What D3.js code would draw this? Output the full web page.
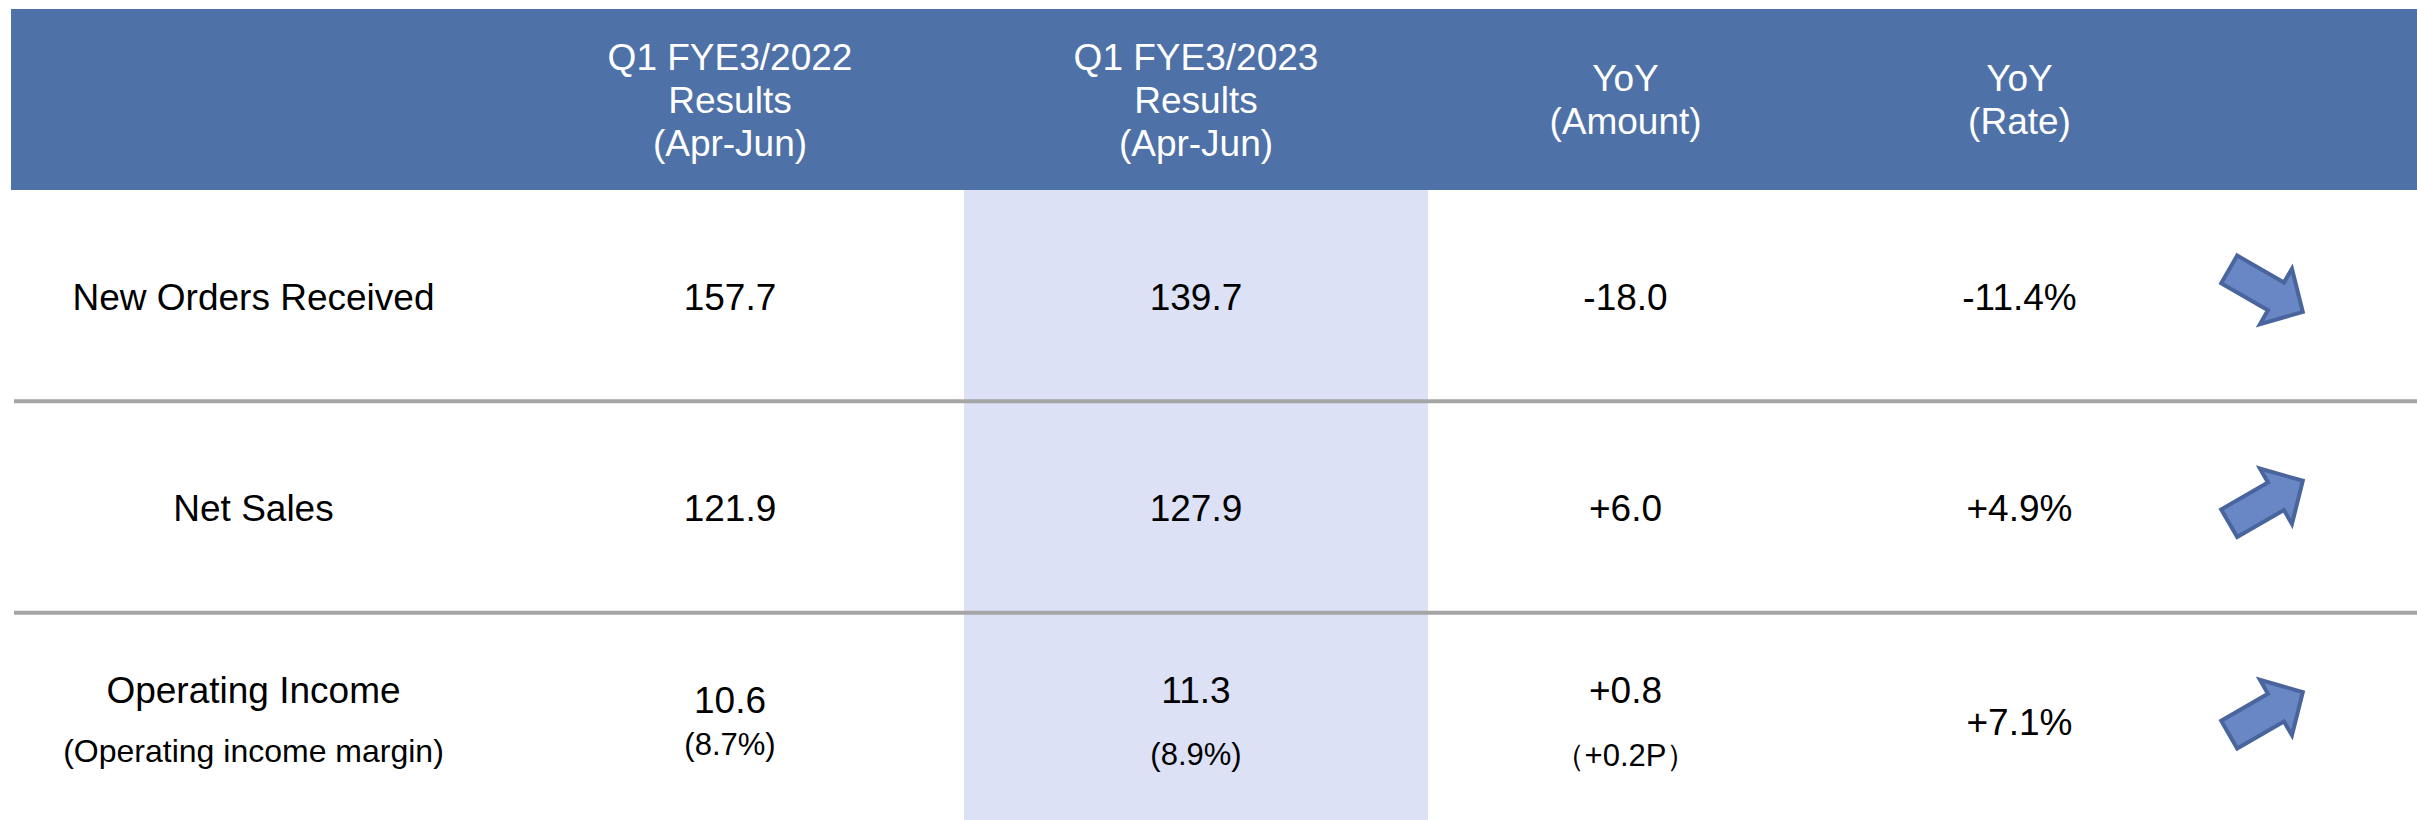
<!DOCTYPE html>
<html>
<head>
<meta charset="utf-8">
<script src="https://cdn.jsdelivr.net/npm/d3@7"></script>
<style>
  body { margin: 0; background: #fff; }
  svg text { font-family: "Liberation Sans", Arial, sans-serif; }
</style>
</head>
<body>
<div id="table-container"></div>
<script>
// RESULTS SUMMARY TABLE

// Data

var metrics = ["New Orders Received", "Net Sales", "Operating Income"];
var metricNotes = ["", "", "(Operating income margin)"];

var headerLines = [
    [],
    ["Q1 FYE3/2022", "Results", "(Apr-Jun)"],
    ["Q1 FYE3/2023", "Results", "(Apr-Jun)"],
    ["YoY", "(Amount)"],
    ["YoY", "(Rate)"],
    []
];

var prevResults = [157.7, 121.9, 10.6];
var currResults = [139.7, 127.9, 11.3];
var yoyAmount = [-18.0, 6.0, 0.8];
var yoyRate = [-11.4, 4.9, 7.1];

var prevMargin = [null, null, 8.7];
var currMargin = [null, null, 8.9];
var marginChange = [null, null, 0.2];

// Layout

var width = 2417;
var height = 820;
var colWidths = [485, 468, 464, 395, 393, 212];
var tableLeft = 11;
var headerTop = 9;
var headerBottom = 190;
var tableBottom = 824;

var headerColor = "#4e71a8";
var highlightColor = "#dce1f6";
var ruleColor = "#a5a5a5";

var colEdges = [tableLeft];
colWidths.forEach(function(w, i) { colEdges.push(colEdges[i] + w); });
function colCenter(i) { return (colEdges[i] + colEdges[i + 1]) / 2; }

var yScale = d3.scaleBand()
    .domain(metrics)
    .range([headerBottom, tableBottom]);

var fmt1 = d3.format(".1f");
function signed(v) { return (v < 0 ? "-" : "+") + fmt1(Math.abs(v)); }

// Cell texts (main + optional note) per column
var cells = metrics.map(function(m, i) {
    return [
        { main: m, note: metricNotes[i] },
        { main: fmt1(prevResults[i]), note: prevMargin[i] == null ? "" : "(" + fmt1(prevMargin[i]) + "%)" },
        { main: fmt1(currResults[i]), note: currMargin[i] == null ? "" : "(" + fmt1(currMargin[i]) + "%)" },
        { main: signed(yoyAmount[i]), note: marginChange[i] == null ? "" : "\uff08" + signed(marginChange[i]) + "P\uff09" },
        { main: signed(yoyRate[i]) + "%", note: "" }
    ];
});

// two-line offsets from the row middle: [main baseline, note baseline]
var twoLine = { 0: [-15, 44], 1: [-5, 37], 2: [-15, 47], 3: [-15, 48] };
var noteSize = { 0: 32, 1: 31, 2: 31, 3: 31 };

// SVG

var svg = d3.select("#table-container")
    .append("svg")
    .attr("width", width)
    .attr("height", height);

// Header band
svg.append("rect")
    .attr("x", tableLeft)
    .attr("y", headerTop)
    .attr("width", width - tableLeft)
    .attr("height", headerBottom - headerTop)
    .attr("fill", headerColor);

// Highlighted current-year column
svg.append("rect")
    .attr("x", colEdges[2])
    .attr("y", headerBottom)
    .attr("width", colEdges[3] - colEdges[2])
    .attr("height", tableBottom - headerBottom)
    .attr("fill", highlightColor);

// Header text
var headerMid = (headerTop + headerBottom) / 2;
headerLines.forEach(function(lines, c) {
    var lineH = 43;
    var first = headerMid + 13 - (lines.length - 1) * lineH / 2;
    var t = svg.append("text")
        .attr("text-anchor", "middle")
        .attr("fill", "#fff")
        .attr("font-size", 37);
    lines.forEach(function(l, k) {
        t.append("tspan")
            .attr("x", colCenter(c))
            .attr("y", first + k * lineH)
            .text(l);
    });
});

// Row rules
svg.selectAll(".rule")
    .data(metrics.slice(1))
    .enter()
    .append("line")
    .attr("class", "rule")
    .attr("x1", 14)
    .attr("x2", width)
    .attr("y1", function(d) { return yScale(d); })
    .attr("y2", function(d) { return yScale(d); })
    .attr("stroke", ruleColor)
    .attr("stroke-width", 4);

// Body text
var rows = svg.selectAll(".row")
    .data(cells)
    .enter()
    .append("g")
    .attr("class", "row")
    .attr("transform", function(d, i) {
        return "translate(0," + (yScale(metrics[i]) + yScale.bandwidth() / 2) + ")";
    });

rows.each(function(row, r) {
    var g = d3.select(this);
    var rowHasNotes = row.some(function(c) { return c.note !== ""; });
    row.forEach(function(cell, c) {
        var hasNote = cell.note !== "";
        var mainY = hasNote ? twoLine[c][0] : (rowHasNotes ? 17 : 14);
        g.append("text")
            .attr("x", colCenter(c))
            .attr("y", mainY)
            .attr("text-anchor", "middle")
            .attr("font-size", 37)
            .attr("fill", "#000")
            .text(cell.main);
        if (hasNote) {
            g.append("text")
                .attr("x", colCenter(c))
                .attr("y", twoLine[c][1])
                .attr("text-anchor", "middle")
                .attr("font-size", noteSize[c])
                .attr("fill", "#000")
                .text(cell.note);
        }
    });
});

// Trend arrows (direction from YoY amount)
var arrowLen = 85, shaftHalf = 16, headHalf = 32, headLen = 31;
var arrowPath = d3.path();
arrowPath.moveTo(-arrowLen / 2, -shaftHalf);
arrowPath.lineTo(arrowLen / 2 - headLen, -shaftHalf);
arrowPath.lineTo(arrowLen / 2 - headLen, -headHalf);
arrowPath.lineTo(arrowLen / 2, 0);
arrowPath.lineTo(arrowLen / 2 - headLen, headHalf);
arrowPath.lineTo(arrowLen / 2 - headLen, shaftHalf);
arrowPath.lineTo(-arrowLen / 2, shaftHalf);
arrowPath.closePath();

svg.selectAll(".arrow")
    .data(yoyAmount)
    .enter()
    .append("path")
    .attr("class", "arrow")
    .attr("d", arrowPath.toString())
    .attr("transform", function(d, i) {
        var cy = yScale(metrics[i]) + yScale.bandwidth() / 2 - 5;
        return "translate(" + (colEdges[5] + 50) + "," + cy + ") rotate(" + (d < 0 ? 30 : -30) + ")";
    })
    .attr("fill", "#6a87c5")
    .attr("stroke", "#4a659e")
    .attr("stroke-width", 4)
    .attr("stroke-linejoin", "miter");
</script>
</body>
</html>
